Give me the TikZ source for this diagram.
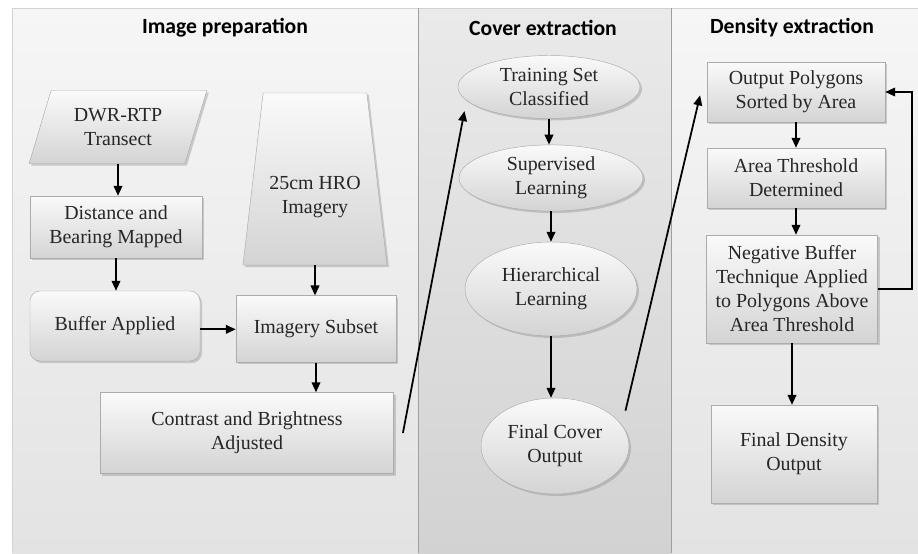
\documentclass[tikz,border=0pt]{standalone}
\usepackage{fontspec}
\setmainfont{Liberation Serif}
\newfontfamily\titlefont{Carlito}
\usetikzlibrary{shapes.geometric,shadows,arrows.meta}

\definecolor{panellight}{HTML}{F6F6F6}
\definecolor{paneldark}{HTML}{E3E3E3}
\definecolor{midlight}{HTML}{EAEAEA}
\definecolor{middark}{HTML}{D2D2D2}

\tikzset{
  box/.style={draw=gray!65, top color=gray!4, bottom color=gray!34,
    drop shadow={opacity=0.35,shadow xshift=0.6mm,shadow yshift=-0.6mm},
    align=center, inner sep=2pt, text=black!85, font=\fontsize{17}{20.5}\selectfont},
  ellbox/.style={box, ellipse},
  flow/.style={-{Triangle[length=3mm,width=2.6mm]}, line width=1.5pt},
  paneltitle/.style={font=\titlefont\bfseries\fontsize{18.5}{22}\selectfont},
}

\begin{document}
\begin{tikzpicture}[x=0.03cm,y=-0.03cm]
    \useasboundingbox (0,0) rectangle (918,553);

    % panels
    \shade[top color=panellight, bottom color=paneldark] (12,8) rectangle (418,553);
    \shade[top color=midlight, bottom color=middark] (418,8) rectangle (671,553);
    \shade[top color=panellight, bottom color=paneldark] (671,8) rectangle (918,553);
    \draw[gray!35] (12,553) -- (12,8) -- (918,8);
    \draw[gray!75, line width=0.8pt] (418,8) -- (418,553);
    \draw[gray!75, line width=0.8pt] (671,8) -- (671,553);

    \node[paneltitle] (ttlprep) at (225,28) {Image preparation};
    \node[paneltitle] (ttlcover) at (543,28) {Cover extraction};
    \node[paneltitle] (ttldens) at (792,28) {Density extraction};

    % image preparation
    \node[box, trapezium, trapezium left angle=70, trapezium right angle=110,
          trapezium stretches=true, minimum width=5.34cm, minimum height=2.19cm]
          (transect) at (118,127) {DWR-RTP\\Transect};
    \node[box, minimum width=5.16cm, minimum height=1.86cm] (dist) at (116,227) {Distance and\\Bearing Mapped};
    \node[box, rounded corners=3mm, minimum width=5.1cm, minimum height=2.1cm] (buffer) at (115,326) {Buffer Applied};
    \node[box, trapezium, trapezium left angle=79, trapezium right angle=79,
          trapezium stretches=true, minimum width=4.32cm, minimum height=5.16cm,
          label={[yshift=-0.54cm, align=center, text=black!85, font=\fontsize{17}{20.5}\selectfont]center:25cm HRO\\Imagery}]
          (hro) at (315,179) {};
    \node[box, minimum width=4.8cm, minimum height=2.0cm] (subset) at (316,329) {Imagery Subset};
    \node[box, minimum width=8.8cm, minimum height=2.43cm] (contrast) at (247,433) {Contrast and Brightness\\Adjusted};

    \draw[flow] (transect.south) -- (transect.south |- dist.north);
    \draw[flow] (dist.south) -- (dist.south |- buffer.north);
    \draw[flow] (hro.south) -- (hro.south |- subset.north);
    \draw[flow] ([yshift=-0.1cm]buffer.east) -- ([yshift=-0.1cm]buffer.east -| subset.west);
    \draw[flow] (subset.south) -- (subset.south |- contrast.north);

    % cover extraction
    \node[ellbox, minimum width=5.46cm, minimum height=1.89cm] (training) at (549,87) {Training Set\\Classified};
    \node[ellbox, minimum width=5.52cm, minimum height=1.92cm] (supervised) at (551,178) {Supervised\\Learning};
    \node[ellbox, minimum width=5.16cm, minimum height=2.82cm] (hierarch) at (551,289) {Hierarchical\\Learning};
    \node[ellbox, minimum width=4.44cm, minimum height=2.88cm] (finalcover) at (555,446) {Final Cover\\Output};

    \draw[flow] ([xshift=0.27cm]contrast.east) -- ([xshift=-0.6cm,yshift=-0.05cm]training.south west);
    \draw[flow] (training.south) -- (training.south |- supervised.north);
    \draw[flow] (supervised.south) -- (supervised.south |- hierarch.north);
    \draw[flow] (hierarch.south) -- (hierarch.south |- finalcover.north);

    % density extraction
    \node[box, minimum width=5.34cm, minimum height=1.8cm] (outpoly) at (796,92) {Output Polygons\\Sorted by Area};
    \node[box, minimum width=5.34cm, minimum height=1.8cm] (areathr) at (796,178) {Area Threshold\\Determined};
    \node[box, minimum width=5.13cm, minimum height=3.24cm] (negbuf) at (792,289) {Negative Buffer\\Technique Applied\\to Polygons Above\\Area Threshold};
    \node[box, minimum width=4.98cm, minimum height=2.94cm] (finaldens) at (794,454) {Final Density\\Output};

    \draw[flow] ([xshift=0.45cm,yshift=0.1cm]finalcover.30) -- ([xshift=-0.2cm,yshift=-0.1cm]outpoly.west);
    \draw[flow] (outpoly.south) -- (outpoly.south |- areathr.north);
    \draw[flow] (areathr.south) -- (areathr.south |- negbuf.north);
    \draw[flow] (negbuf.south) -- (negbuf.south |- finaldens.north);
    \draw[flow] (negbuf.east) -- ++(34,0) |- (outpoly.east);
\end{tikzpicture}
\end{document}
